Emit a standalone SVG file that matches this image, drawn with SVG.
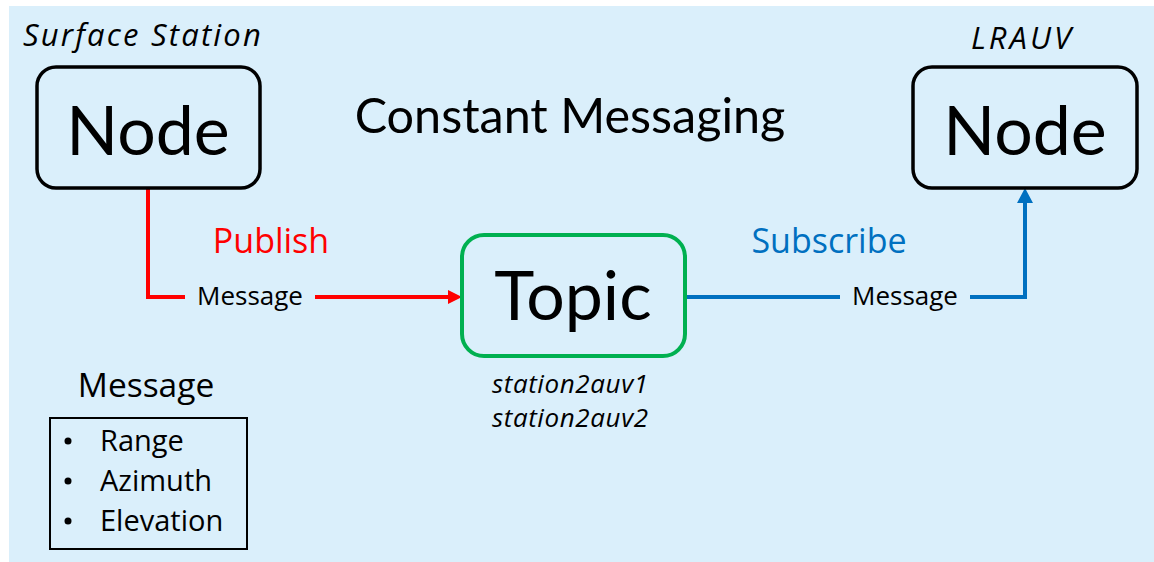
<svg xmlns="http://www.w3.org/2000/svg" width="1154" height="562" viewBox="0 0 1154 562">
  <style>
    text { font-family: "Open Sans", Lato, "Liberation Sans", sans-serif; fill: #000; }
    .node { fill: none; stroke: #000; stroke-width: 3.5; }
    .topic { fill: none; stroke: #00B050; stroke-width: 4; }
    .big { font-family: Lato, "Open Sans", sans-serif; font-size: 68px; text-anchor: middle; }
    .title { font-family: Lato, "Open Sans", sans-serif; font-size: 48.5px; text-anchor: middle; }
    .caption { font-size: 31px; font-style: italic; text-anchor: middle; }
    .label { font-size: 26px; text-anchor: middle; }
    .topic-name { font-size: 26px; font-style: italic; letter-spacing: 0.6px; text-anchor: middle; }
    .verb { font-size: 34px; text-anchor: middle; }
    .pub { stroke: #FF0000; stroke-width: 4; fill: none; }
    .sub { stroke: #0070C0; stroke-width: 4; fill: none; }
    .item { font-size: 29px; }
  </style>
  <defs>
    <marker id="arrow-red" markerUnits="userSpaceOnUse" markerWidth="14" markerHeight="14" refX="0" refY="7" orient="auto">
      <path d="M0,0 L14,7 L0,14 Z" fill="#FF0000"/>
    </marker>
    <marker id="arrow-blue" markerUnits="userSpaceOnUse" markerWidth="15" markerHeight="16" refX="0" refY="8" orient="auto">
      <path d="M0,0 L15,8 L0,16 Z" fill="#0070C0"/>
    </marker>
  </defs>

  <!-- slide background -->
  <rect x="9" y="6" width="1145" height="556" fill="#DAEFFB"/>

  <!-- title -->
  <text class="title" x="570" y="133">Constant Messaging</text>

  <!-- connectors -->
  <g id="connectors">
    <path class="pub" d="M148,188 V297 H185"/>
    <path class="pub" d="M315,297 H448" marker-end="url(#arrow-red)"/>
    <path class="sub" d="M685,297 H840"/>
    <path class="sub" d="M970,297 H1025 V203" marker-end="url(#arrow-blue)"/>
    <text class="verb" x="271" y="253" style="fill:#FF0000">Publish</text>
    <text class="verb" x="829" y="253" style="fill:#0070C0">Subscribe</text>
    <text class="label" x="250" y="305">Message</text>
    <text class="label" x="905" y="305">Message</text>
  </g>

  <!-- publisher node -->
  <g id="surface-station">
    <text class="caption" x="143" y="46" letter-spacing="2.2">Surface Station</text>
    <rect class="node" x="37" y="67" width="223" height="121" rx="19"/>
    <text class="big" x="148" y="155">Node</text>
  </g>

  <!-- subscriber node -->
  <g id="lrauv">
    <text class="caption" x="1022.5" y="49" font-size="33" letter-spacing="3">LRAUV</text>
    <rect class="node" x="913" y="67" width="224" height="121" rx="19"/>
    <text class="big" x="1025" y="155">Node</text>
  </g>

  <!-- topic -->
  <g id="topic">
    <rect class="topic" x="462" y="235" width="223" height="121" rx="22"/>
    <text class="big" x="573" y="320">Topic</text>
    <text class="topic-name" x="570.3" y="393">station2auv1</text>
    <text class="topic-name" x="570.3" y="427">station2auv2</text>
  </g>

  <!-- message contents legend -->
  <g id="message-legend">
    <text x="146" y="397" font-size="33.5" text-anchor="middle">Message</text>
    <rect x="50" y="418" width="197" height="131" fill="none" stroke="#000" stroke-width="2"/>
    <circle cx="68" cy="441" r="3.5"/>
    <circle cx="68" cy="481" r="3.5"/>
    <circle cx="68" cy="521" r="3.5"/>
    <text class="item" x="100" y="451">Range</text>
    <text class="item" x="100" y="491">Azimuth</text>
    <text class="item" x="100" y="531">Elevation</text>
  </g>
</svg>
